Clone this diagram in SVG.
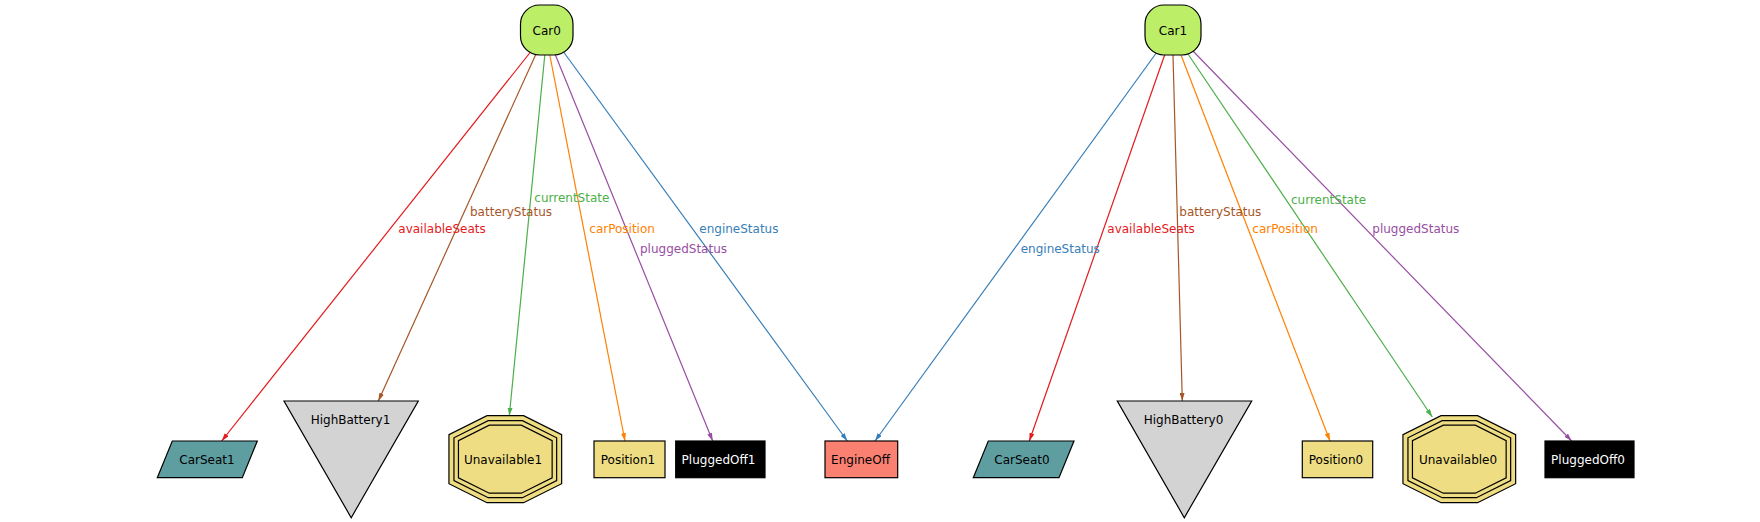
<svg xmlns="http://www.w3.org/2000/svg" width="1760" height="522" viewBox="0 0 1760 522">
<style>
text{font-family:"DejaVu Sans","Liberation Sans",sans-serif;font-size:12px}
.n{text-anchor:middle;fill:#000}
.w{text-anchor:middle;fill:#fff}
.s{stroke:#000;stroke-width:1.2}
.e{fill:none;stroke-width:1.2}
</style>
<defs>
<marker id="mr" viewBox="0 0 8 5" refX="8" refY="2.5" markerWidth="8" markerHeight="5" markerUnits="userSpaceOnUse" orient="auto"><path d="M0,0 L8,2.5 L0,5 z" fill="#e41a1c"/></marker>
<marker id="mb" viewBox="0 0 8 5" refX="8" refY="2.5" markerWidth="8" markerHeight="5" markerUnits="userSpaceOnUse" orient="auto"><path d="M0,0 L8,2.5 L0,5 z" fill="#a65628"/></marker>
<marker id="mg" viewBox="0 0 8 5" refX="8" refY="2.5" markerWidth="8" markerHeight="5" markerUnits="userSpaceOnUse" orient="auto"><path d="M0,0 L8,2.5 L0,5 z" fill="#4daf4a"/></marker>
<marker id="mo" viewBox="0 0 8 5" refX="8" refY="2.5" markerWidth="8" markerHeight="5" markerUnits="userSpaceOnUse" orient="auto"><path d="M0,0 L8,2.5 L0,5 z" fill="#ff7f00"/></marker>
<marker id="mp" viewBox="0 0 8 5" refX="8" refY="2.5" markerWidth="8" markerHeight="5" markerUnits="userSpaceOnUse" orient="auto"><path d="M0,0 L8,2.5 L0,5 z" fill="#984ea3"/></marker>
<marker id="ml" viewBox="0 0 8 5" refX="8" refY="2.5" markerWidth="8" markerHeight="5" markerUnits="userSpaceOnUse" orient="auto"><path d="M0,0 L8,2.5 L0,5 z" fill="#377eb8"/></marker>
<g id="oct">
<polygon class="s" fill="#eedd82" points="-18.3,-43.5 18.3,-43.5 56.35,-24.5 56.35,24.5 18.3,43.5 -18.3,43.5 -56.35,24.5 -56.35,-24.5"/>
<polygon class="s" fill="none" points="-17.1,-38.5 17.1,-38.5 51.35,-21.4 51.35,21.4 17.1,38.5 -17.1,38.5 -51.35,21.4 -51.35,-21.4"/>
<polygon class="s" fill="none" points="-16,-34 16,-34 46.85,-18.6 46.85,18.6 16,34 -16,34 -46.85,18.6 -46.85,-18.6"/>
</g>
</defs>
<rect width="1760" height="522" fill="#fff"/>

<g id="connectors">
<line class="e" stroke="#e41a1c" marker-end="url(#mr)" x1="530.5" y1="52" x2="221.7" y2="441"/>
<line class="e" stroke="#a65628" marker-end="url(#mb)" x1="536" y1="54" x2="378.3" y2="401"/>
<line class="e" stroke="#4daf4a" marker-end="url(#mg)" x1="544.8" y1="55" x2="509.3" y2="415.7"/>
<line class="e" stroke="#ff7f00" marker-end="url(#mo)" x1="549.8" y1="55" x2="625" y2="441"/>
<line class="e" stroke="#984ea3" marker-end="url(#mp)" x1="555" y1="54" x2="712.7" y2="441"/>
<line class="e" stroke="#377eb8" marker-end="url(#ml)" x1="563.6" y1="52" x2="847.3" y2="441"/>
<line class="e" stroke="#377eb8" marker-end="url(#ml)" x1="1157" y1="52" x2="875" y2="441"/>
<line class="e" stroke="#e41a1c" marker-end="url(#mr)" x1="1165" y1="54" x2="1029.3" y2="441"/>
<line class="e" stroke="#a65628" marker-end="url(#mb)" x1="1173" y1="55" x2="1182.3" y2="401"/>
<line class="e" stroke="#ff7f00" marker-end="url(#mo)" x1="1181" y1="55" x2="1330" y2="441"/>
<line class="e" stroke="#4daf4a" marker-end="url(#mg)" x1="1188" y1="54" x2="1432.3" y2="417"/>
<line class="e" stroke="#984ea3" marker-end="url(#mp)" x1="1192" y1="50" x2="1571.7" y2="441"/>
<text x="398.3" y="232.7" fill="#e41a1c">availableSeats</text>
<text x="470" y="215.7" fill="#a65628">batteryStatus</text>
<text x="534.3" y="202.3" fill="#4daf4a">currentState</text>
<text x="589.3" y="232.7" fill="#ff7f00">carPosition</text>
<text x="640" y="252.7" fill="#984ea3">pluggedStatus</text>
<text x="699.3" y="232.7" fill="#377eb8">engineStatus</text>
<text x="1020.7" y="252.7" fill="#377eb8">engineStatus</text>
<text x="1107.3" y="232.7" fill="#e41a1c">availableSeats</text>
<text x="1179.3" y="215.7" fill="#a65628">batteryStatus</text>
<text x="1252.3" y="232.7" fill="#ff7f00">carPosition</text>
<text x="1291" y="204.3" fill="#4daf4a">currentState</text>
<text x="1372.3" y="232.7" fill="#984ea3">pluggedStatus</text>
</g>

<g id="Car0"><rect class="s" x="520.5" y="5" width="52.5" height="50" rx="19" fill="#bcee68"/><text class="n" x="546.7" y="34.5">Car0</text></g>
<g id="Car1"><rect class="s" x="1145" y="5" width="56" height="50" rx="19" fill="#bcee68"/><text class="n" x="1173" y="34.5">Car1</text></g>

<g id="CarSeat1"><polygon class="s" fill="#5f9ea0" points="157.3,477.7 172.3,441 257.3,441 242.3,477.7"/><text class="n" x="207" y="464">CarSeat1</text></g>
<g id="HighBattery1"><polygon class="s" fill="#d3d3d3" points="284,401 418.3,401 351.2,517.7"/><text class="n" x="350.5" y="424.3">HighBattery1</text></g>
<g id="Unavailable1"><use href="#oct" transform="translate(505.3,459.2)"/><text class="n" x="503" y="464">Unavailable1</text></g>
<g id="Position1"><rect class="s" x="594" y="441" width="71" height="36.7" fill="#eedd82"/><text class="n" x="628" y="464">Position1</text></g>
<g id="PluggedOff1"><rect class="s" x="675.7" y="441" width="89.3" height="36.7" fill="#000"/><text class="w" x="718.5" y="464">PluggedOff1</text></g>
<g id="EngineOff"><rect class="s" x="825" y="441" width="72.7" height="36.7" fill="#fa8072"/><text class="n" x="860.5" y="464.3">EngineOff</text></g>
<g id="CarSeat0"><polygon class="s" fill="#5f9ea0" points="973.3,477.7 988.3,441 1074,441 1059,477.7"/><text class="n" x="1022" y="464">CarSeat0</text></g>
<g id="HighBattery0"><polygon class="s" fill="#d3d3d3" points="1117.3,401 1251.7,401 1184.3,517.7"/><text class="n" x="1183.5" y="424.3">HighBattery0</text></g>
<g id="Position0"><rect class="s" x="1302.3" y="441" width="70.4" height="36.7" fill="#eedd82"/><text class="n" x="1336" y="464">Position0</text></g>
<g id="Unavailable0"><use href="#oct" transform="translate(1459.3,459.2)"/><text class="n" x="1458" y="464">Unavailable0</text></g>
<g id="PluggedOff0"><rect class="s" x="1545" y="441" width="89" height="36.7" fill="#000"/><text class="w" x="1588" y="464">PluggedOff0</text></g>
</svg>
